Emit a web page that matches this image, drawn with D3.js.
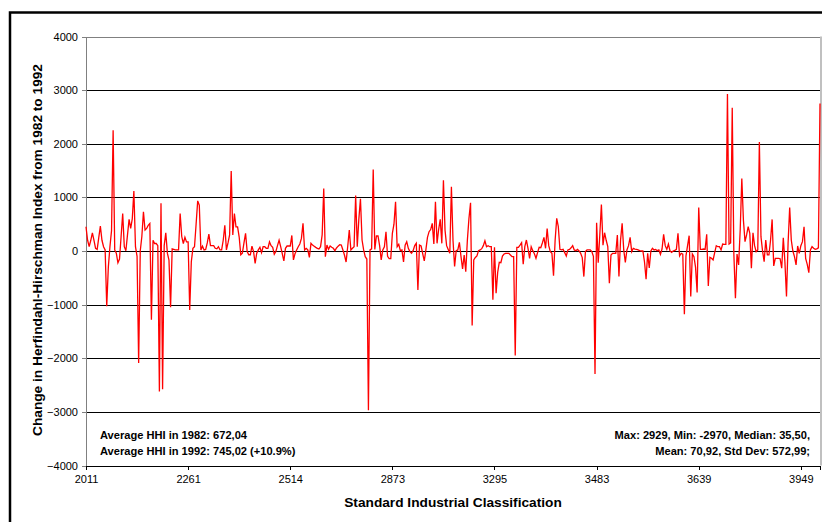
<!DOCTYPE html>
<html>
<head>
<meta charset="utf-8">
<script src="https://cdn.jsdelivr.net/npm/d3@7"></script>
<style>
body { margin: 0; background: #fff; }
svg { font-family: Arial, "Liberation Sans", sans-serif; }
</style>
</head>
<body>
<svg id="chart" width="822" height="522"></svg>
<script>
"use strict";

// change in HHI 1982 -> 1992, one value per SIC industry
const hhiChange = [
    453, 200, 80, 200, 340, 200, 50, 30, 250, 465, 200, 80, 20, -1030, -300, 80,
    380, 2250, 20, -40, -220, -150, 270, 700, 80, 5, 300, 590, 420, 600, 1120, 80,
    -100, -2090, 0, 270, 730, 390, 420, 480, 515, -1280, 200, 140, 140, 100, -2620, 890,
    -2580, 100, 340, -40, -170, -1050, 40, 30, 20, 20, 20, 700, 270, 140, 255, 170,
    170, -1100, -200, 50, 80, 500, 935, 855, 20, 90, 20, 30, 150, 316, 100, 100,
    100, 50, 40, 80, 20, 20, 200, 480, 20, 150, 300, 1490, 300, 700, 450, 450,
    260, -70, -40, 150, 330, -10, -70, -70, 90, -10, -230, -40, 20, 70, -30, 80,
    80, 50, 50, 170, 100, 70, -60, -10, 100, 200, 80, -50, -186, 50, 93, 93,
    93, 290, -167, -50, 20, 80, 130, 235, 515, 20, 50, 20, -118, 143, 110, 90,
    68, 50, 37, 80, 300, 1166, -105, 110, 30, 93, 70, 50, 6, 56, 90, 118,
    110, 20, -80, -205, 80, 390, 20, 50, 80, 1035, 80, 600, 973, 205, 20, -105,
    -150, -2970, 20, 40, 1519, 30, 280, 280, 100, -167, 20, 80, 360, -100, -143, -143,
    330, 500, 918, 80, 124, 6, 20, -205, 110, 174, 50, -12, -43, 6, 100, 143,
    -725, 110, 93, -50, -186, 20, 254, 360, 400, 515, 130, 918, 143, 400, 590, 143,
    1320, 390, 100, 30, -43, 1197, 200, -290, 6, 20, 160, -100, -335, -75, -384, 200,
    608, 900, -1389, -167, -120, -93, 6, 20, 43, 100, 192, 80, 99, 80, 80, -911,
    68, -787, -400, -211, -217, -93, -56, -43, -43, -43, -75, -105, -105, -1947, 68, 68,
    110, 155, -248, 80, 205, 50, -136, 80, 6, -50, -136, -31, 68, 62, 150, 254,
    50, 420, 100, -12, -43, -459, 200, 608, 453, 30, 20, 30, -30, -93, 20, 30,
    60, 99, 20, 6, 30, 0, -43, -124, -477, -12, 20, 20, 20, -12, -100, -2294,
    527, -217, 300, 868, 110, 341, 200, 80, -601, -75, -43, -43, -43, 298, -477, 200,
    515, 20, -211, 20, 100, 254, -12, 50, 37, 30, 20, 6, 0, 0, -200, -527,
    -43, -316, 0, 50, 20, 30, 6, 20, -62, 37, 310, 100, 30, 130, 0, -25,
    0, 10, 30, 330, -93, -43, -60, -1178, -93, 100, 285, -849, -56, -105, -300, -775,
    812, 30, 30, 37, 31, 310, -651, -118, -136, -167, -31, 99, 80, 80, 19, 130,
    124, 124, 2929, 130, 150, 2672, -43, -880, -56, -260, 400, 1352, 577, 174, 300, 453,
    329, -322, 341, 100, -12, 19, 2034, 267, 0, -198, 205, -74, -74, 200, 589, -279,
    -136, -136, -136, -143, -322, 248, -200, -849, 143, 812, 205, 0, -105, -260, 93, -43,
    100, 174, 453, -136, -250, -403, 19, 80, 50, 31, 40, 60, 2750
];

// every 64th SIC code is labelled on the axis
const sicLabels = ["2011", "2261", "2514", "2873", "3295", "3483", "3639", "3949"];
const labelStep = 64;
const yTicks = [-4000, -3000, -2000, -1000, 0, 1000, 2000, 3000, 4000];

const notesLeft = ["Average HHI in 1982: 672,04", "Average HHI in 1992: 745,02 (+10.9%)"];
const notesRight = ["Max: 2929, Min: -2970, Median: 35,50,", "Mean: 70,92, Std Dev: 572,99;"];

const xAxisTitle = "Standard Industrial Classification";
const yAxisTitle = "Change in Herfindahl-Hirschman Index from 1982 to 1992";

const plot = { left: 86, right: 820, top: 36.5, bottom: 465.5 };

const svg = d3.select("#chart");

// outer chart frame (runs off the picture to the right and bottom)
svg.append("rect")
    .attr("x", 10)
    .attr("y", 12.5)
    .attr("width", 900)
    .attr("height", 600)
    .attr("fill", "#fff")
    .attr("stroke", "#000")
    .attr("stroke-width", 2.5);

const scaleX = d3.scaleLinear()
    .domain([0, hhiChange.length - 1])
    .range([plot.left, plot.right]);

const scaleY = d3.scaleLinear()
    .domain([-4000, 4000])
    .range([plot.bottom, plot.top]);

// horizontal grid
svg.append("g")
    .attr("class", "yGrid")
    .attr("transform", `translate(${plot.left}, 0)`)
    .call(d3.axisLeft(scaleY)
        .tickValues(yTicks)
        .tickSize(-(plot.right - plot.left))
        .tickFormat("")
    )
    .call(g => g.select(".domain").remove());
svg.selectAll("g.yGrid line")
    .attr("stroke", (d) => d === 4000 ? "#808080" : "#000")
    .attr("shape-rendering", "crispEdges");

// right border of the plot area
svg.append("line")
    .attr("x1", plot.right + 1)
    .attr("x2", plot.right + 1)
    .attr("y1", plot.top)
    .attr("y2", plot.bottom)
    .attr("stroke", "#c0c0c0")
    .attr("stroke-width", 2);

// y axis
svg.append("g")
    .attr("class", "yAxis")
    .attr("transform", `translate(${plot.left}, 0)`)
    .call(d3.axisLeft(scaleY)
        .tickValues(yTicks)
        .tickSize(4)
        .tickPadding(4)
        .tickFormat(d3.format("d"))
    );
svg.selectAll("g.yAxis .domain, g.yAxis line")
    .attr("stroke", "#808080")
    .attr("shape-rendering", "crispEdges");
svg.selectAll("g.yAxis text")
    .attr("font-size", 11)
    .attr("font-family", "Arial, 'Liberation Sans', sans-serif")
    .attr("fill", "#000");

// the series
const line = d3.line()
    .x((d, i) => scaleX(i))
    .y((d) => scaleY(d));

svg.append("path")
    .datum(hhiChange)
    .attr("fill", "none")
    .attr("stroke", "#ff0000")
    .attr("stroke-width", 1.3)
    .attr("stroke-linejoin", "miter")
    .attr("d", line);

// x axis
svg.append("g")
    .attr("class", "xAxis")
    .attr("transform", `translate(0, ${plot.bottom})`)
    .call(d3.axisBottom(scaleX)
        .tickValues(sicLabels.map((d, i) => i * labelStep))
        .tickFormat((d, i) => sicLabels[i])
        .tickSizeOuter(0)
        .tickSize(4)
        .tickPadding(6)
    );
svg.selectAll("g.xAxis .domain, g.xAxis line")
    .attr("stroke", "#000")
    .attr("shape-rendering", "crispEdges");
svg.selectAll("g.xAxis text")
    .attr("font-size", 11)
    .attr("font-family", "Arial, 'Liberation Sans', sans-serif")
    .attr("fill", "#000");

// notes inside the plot
svg.append("g")
    .selectAll("text")
    .data(notesLeft)
    .join("text")
    .attr("x", 100)
    .attr("y", (d, i) => 439 + i * 15.5)
    .attr("font-size", 11.1)
    .attr("font-weight", "bold")
    .text(d => d);

svg.append("g")
    .selectAll("text")
    .data(notesRight)
    .join("text")
    .attr("x", 810)
    .attr("y", (d, i) => 439 + i * 15.5)
    .attr("text-anchor", "end")
    .attr("font-size", 11.1)
    .attr("font-weight", "bold")
    .text(d => d);

// axis titles
svg.append("text")
    .attr("x", 453)
    .attr("y", 507)
    .attr("text-anchor", "middle")
    .attr("font-size", 13.7)
    .attr("font-weight", "bold")
    .text(xAxisTitle);

svg.append("text")
    .attr("transform", `translate(42, 250) rotate(-90)`)
    .attr("text-anchor", "middle")
    .attr("font-size", 13.7)
    .attr("font-weight", "bold")
    .text(yAxisTitle);
</script>
</body>
</html>
